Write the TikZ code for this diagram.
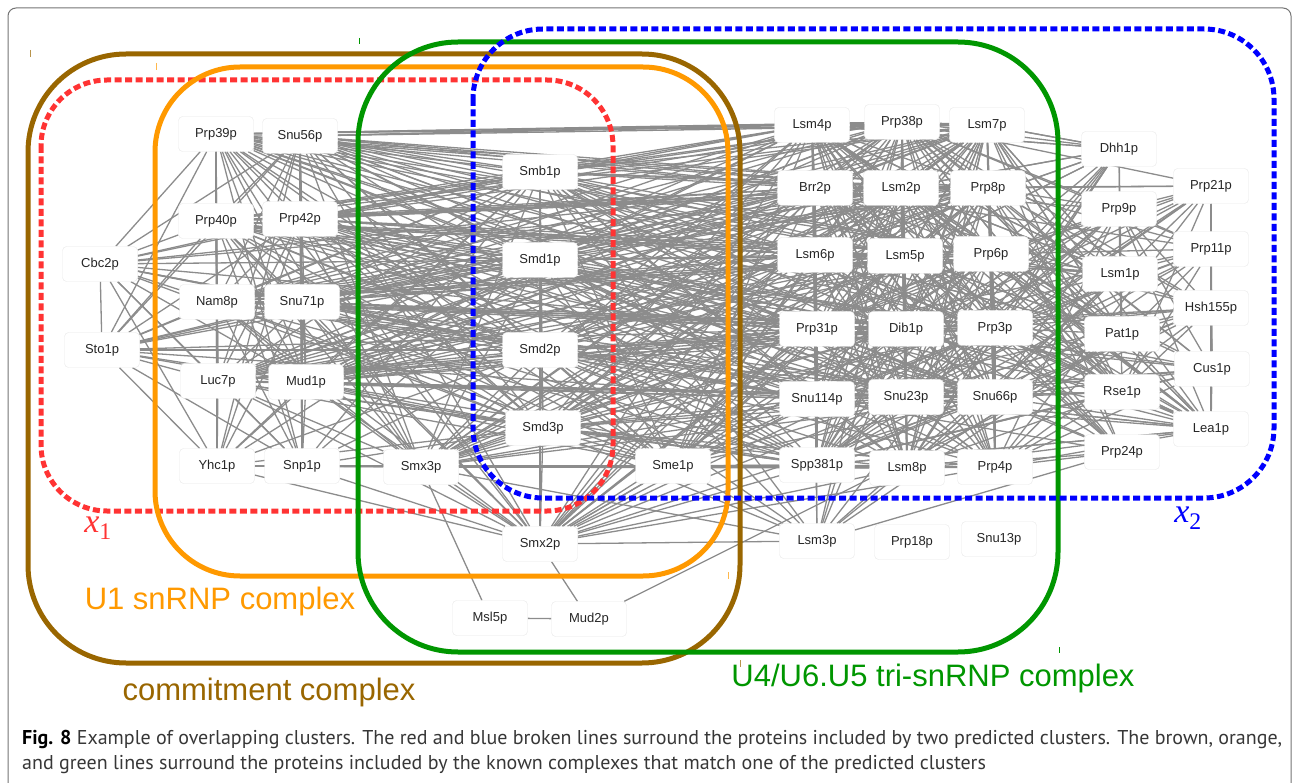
\documentclass[tikz,border=0pt]{standalone}
\usepackage{fontspec}
\usepackage{xcolor}
\newfontfamily\protfont{Liberation Sans}
\newfontfamily\capfont{PT Sans}
\newfontfamily\varfont{Liberation Serif}
\definecolor{brownc}{RGB}{153,102,0}
\definecolor{orangec}{RGB}{255,153,0}
\definecolor{greenc}{RGB}{0,150,0}
\definecolor{redc}{RGB}{255,51,51}
\definecolor{bluec}{RGB}{0,0,255}
\definecolor{linkgray}{RGB}{140,140,140}
\definecolor{capgray}{RGB}{55,55,55}
\pgfdeclarelayer{background}
\pgfsetlayers{background,main}
\tikzset{
  prot/.style={rectangle,rounded corners=4pt,draw=black!9,fill=white,
    minimum width=75pt,minimum height=35pt,inner sep=0pt,text=black!85,
    font=\protfont\fontsize{13}{15}\selectfont},
  link/.style={draw=linkgray,line width=1.3pt},
  complexline/.style={line width=5pt,rounded corners=#1},
  clusterline/.style={line width=5pt,dash pattern=on 7pt off 3.5pt,rounded corners=#1},
  cplxlabel/.style={font=\protfont\fontsize{31}{36}\selectfont},
  varlabel/.style={font=\varfont\itshape\fontsize{34}{38}\selectfont},
  frame/.style={draw=black!55,line width=1pt,rounded corners=8pt}
}
% every pair of proteins in one list
\newcommand{\linkall}[1]{%
  \foreach \a [count=\i] in {#1} {%
    \foreach \b [count=\j] in {#1} {%
      \ifnum\j>\i \path[link] (\a) edge (\b);\fi}}}
% every protein of one list with every protein of the other
\newcommand{\linkcross}[2]{%
  \foreach \a in {#1} {\foreach \b in {#2} {\path[link] (\a) edge (\b);}}}

\begin{document}
\begin{tikzpicture}[x=1pt,y=-1pt]
\useasboundingbox (0,0) rectangle (1293,783);
\draw[frame] (8,800) -- (8,8) -- (1291,8) -- (1291,800);
% commitment / U1 snRNP proteins
\node (cbc2) [prot] at (100,264) {Cbc2p};
\node (sto1) [prot] at (102,350) {Sto1p};
\node (prp39) [prot] at (216,134) {Prp39p};
\node (snu56) [prot] at (300,136) {Snu56p};
\node (prp40) [prot] at (216,221) {Prp40p};
\node (prp42) [prot] at (300,219) {Prp42p};
\node (nam8) [prot] at (217,302) {Nam8p};
\node (snu71) [prot] at (302,302) {Snu71p};
\node (luc7) [prot] at (218,381) {Luc7p};
\node (mud1) [prot] at (306,382) {Mud1p};
\node (yhc1) [prot] at (217,466) {Yhc1p};
\node (snp1) [prot] at (302,466) {Snp1p};
% Sm ring
\node (smb1) [prot] at (540,172) {Smb1p};
\node (smd1) [prot] at (540,260) {Smd1p};
\node (smd2) [prot] at (540,350) {Smd2p};
\node (smd3) [prot] at (543,428) {Smd3p};
\node (smx3) [prot] at (421,467) {Smx3p};
\node (sme1) [prot] at (673,466) {Sme1p};
\node (smx2) [prot] at (540,544) {Smx2p};
\node (msl5) [prot] at (490,618) {Msl5p};
\node (mud2) [prot] at (589,619) {Mud2p};
% tri-snRNP
\node (lsm4) [prot] at (812,125) {Lsm4p};
\node (prp38) [prot] at (902,122) {Prp38p};
\node (lsm7) [prot] at (987,125) {Lsm7p};
\node (brr2) [prot] at (815,188) {Brr2p};
\node (lsm2) [prot] at (901,188) {Lsm2p};
\node (prp8) [prot] at (988,188) {Prp8p};
\node (lsm6) [prot] at (815,255) {Lsm6p};
\node (lsm5) [prot] at (905,256) {Lsm5p};
\node (prp6) [prot] at (991,254) {Prp6p};
\node (prp31) [prot] at (817,329) {Prp31p};
\node (dib1) [prot] at (906,329) {Dib1p};
\node (prp3) [prot] at (995,328) {Prp3p};
\node (snu114) [prot] at (817,399) {Snu114p};
\node (snu23) [prot] at (906,397) {Snu23p};
\node (snu66) [prot] at (995,397) {Snu66p};
\node (spp381) [prot] at (817,465) {Spp381p};
\node (lsm8) [prot] at (907,468) {Lsm8p};
\node (prp4) [prot] at (995,467) {Prp4p};
\node (lsm3) [prot] at (817,541) {Lsm3p};
\node (prp18) [prot] at (912,542) {Prp18p};
\node (snu13) [prot] at (999,539) {Snu13p};
% right hand proteins
\node (dhh1) [prot] at (1119,149) {Dhh1p};
\node (prp9) [prot] at (1119,209) {Prp9p};
\node (lsm1) [prot] at (1120,274) {Lsm1p};
\node (pat1) [prot] at (1122,334) {Pat1p};
\node (rse1) [prot] at (1122,392) {Rse1p};
\node (prp24) [prot] at (1122,452) {Prp24p};
\node (prp21) [prot] at (1211,186) {Prp21p};
\node (prp11) [prot] at (1211,249) {Prp11p};
\node (hsh155) [prot] at (1211,308) {Hsh155p};
\node (cus1) [prot] at (1212,369) {Cus1p};
\node (lea1) [prot] at (1211,429) {Lea1p};
%
\begin{pgfonlayer}{background}
\linkall{prp39,snu56,prp40,prp42,nam8,snu71,luc7,mud1,yhc1,snp1}
\linkall{smb1,smd1,smd2,smd3,sme1,smx2,smx3}
\linkall{lsm4,prp38,lsm7,brr2,lsm2,prp8,lsm6,lsm5,prp6,prp31,dib1,prp3,snu114,snu23,snu66,spp381,lsm8,prp4}
\linkall{lsm1,lsm2,lsm3,lsm4,lsm5,lsm6,lsm7,lsm8,pat1,dhh1}
\linkall{prp9,prp21,prp11,hsh155,cus1,rse1,lea1}
\linkcross{prp39,snu56,prp40,prp42,nam8,snu71,luc7,mud1,yhc1,snp1}{smb1,smd1,smd2,smd3,sme1,smx2,smx3}
\linkcross{smb1,smd1,smd2,smd3,sme1,smx2,smx3}{lsm4,prp38,lsm7,brr2,lsm2,prp8,lsm6,lsm5,prp6,prp31,dib1,prp3,snu114,snu23,snu66,spp381,lsm8,prp4,lsm3}
\linkcross{snu56,prp42,snu71,mud1,prp39,prp40,nam8,luc7}{lsm4,prp38,lsm7,brr2,lsm2,prp8,lsm6,lsm5,prp6,prp31,dib1,prp3,snu114,snu23,snu66,spp381}
\linkcross{cbc2,sto1}{prp39,snu56,prp40,prp42,nam8,snu71,luc7,mud1,yhc1,snp1,smb1,smd1,smd2,smd3,prp8,brr2,snu114,prp31}
\linkcross{prp9,prp21,prp11,hsh155,cus1,rse1,lea1}{prp8,brr2,snu114,prp6,prp3,prp31,snu66,snu23,dib1,prp4,spp381,prp38}
\linkcross{lea1,rse1,pat1,lsm1,dhh1}{lsm4,lsm7,lsm2,lsm6,lsm5,lsm8,prp38,snu23,spp381,prp6,prp3}
\linkcross{prp24}{lsm2,lsm3,lsm4,lsm5,lsm6,lsm7,lsm8,prp3,prp4,snu66,brr2,prp8,snu114,prp31}
\path[link] (cbc2) edge (sto1);
\path[link] (msl5) edge (mud2);
\path[link] (smx3) edge (msl5);
\path[link] (smx2) edge (mud2);
\path[link] (mud2) edge (hsh155);
\end{pgfonlayer}
%
% predicted clusters and known complexes
\draw[redc,clusterline=66pt] (41,80) rectangle (613,511);
\draw[brownc,complexline=98pt] (28,54) rectangle (740,663);
\draw[orangec,complexline=85pt] (155,67) rectangle (728,576);
\draw[greenc,complexline=100pt] (358,42) rectangle (1058,652);
\draw[bluec,clusterline=70pt] (473,29) rectangle (1274,498);
% small marks left on the outlines
\draw[brownc!70,line width=1pt] (30,50) -- (30,57);
\draw[orangec!70,line width=1pt] (156,63) -- (156,70);
\draw[greenc,line width=1pt] (359,38) -- (359,44);
\draw[orangec!70,line width=1pt] (728,572) -- (728,579);
\draw[brownc!70,line width=1pt] (740,660) -- (740,667);
\draw[greenc,line width=1pt] (1059,647) -- (1059,653);
%
\node (xone) [varlabel,text=redc] at (98,528) {x\textsubscript{\upshape 1}};
\node (xtwo) [varlabel,text=bluec] at (1188,518) {x\textsubscript{\upshape 2}};
\node (uonelbl) [cplxlabel,text=orangec] at (220,601) {U1 snRNP complex};
\node (commitlbl) [cplxlabel,text=brownc] at (269,692) {commitment complex};
\node (trilbl) [cplxlabel,text=greenc] at (933,678) {U4/U6.U5 tri-snRNP complex};
%
\node (caption) [anchor=west,align=left,inner sep=0pt,text=capgray,
  font=\capfont\fontsize{20}{25}\selectfont] at (22,752)
  {{\color{black}\bfseries Fig. 8} Example of overlapping clusters. The red and blue broken lines surround the proteins included by two predicted clusters. The brown, orange,\\
  and green lines surround the proteins included by the known complexes that match one of the predicted clusters};
\end{tikzpicture}
\end{document}
